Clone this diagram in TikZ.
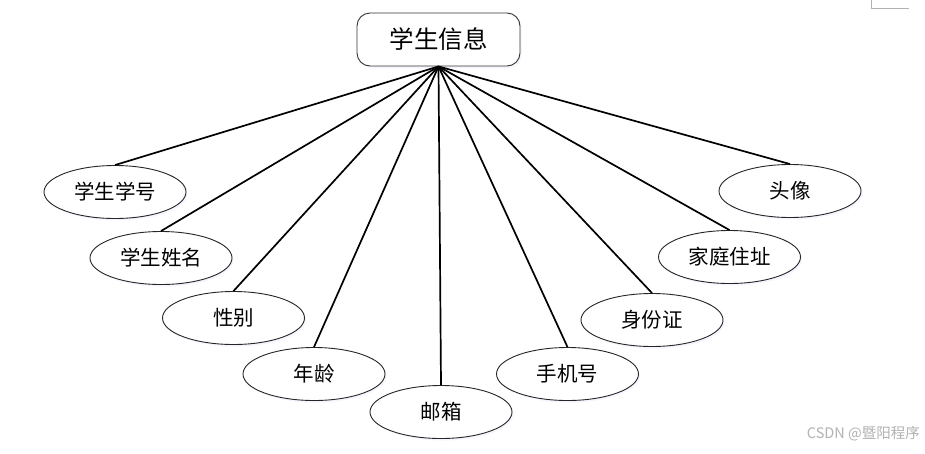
\documentclass[tikz,border=0pt]{standalone}
\usepackage{fontspec}
\newfontfamily\cjk{Noto Sans CJK SC}
\usetikzlibrary{shapes.geometric,shadows}
\tikzset{
  attr/.style={draw=black!85, line width=0.9pt, ellipse, fill=white, minimum width=142pt, minimum height=53pt, inner sep=0pt, font=\cjk\fontsize{20.5}{20.5}\selectfont,
    drop shadow={shadow xshift=1.5pt, shadow yshift=-2pt, opacity=0.25, fill=blue!15}},
  entity/.style={draw=black!80, line width=0.9pt, rounded corners=13pt, fill=white, minimum width=163pt, minimum height=53pt, inner sep=0pt, font=\cjk\fontsize{24.5}{24.5}\selectfont,
    drop shadow={shadow xshift=1.5pt, shadow yshift=-2pt, opacity=0.25, fill=blue!15}},
  conn/.style={line width=1.7pt, black}
}
\begin{document}
\begin{tikzpicture}[x=1pt,y=-1pt]
\useasboundingbox (0,0) rectangle (925,453);
\fill[white] (0,0) rectangle (925,453);
\draw[black!30, line width=0.8pt] (871,0) coordinate (c1) -- (871,8) coordinate (c2) -- (909,8) coordinate (c3);
\node[entity] (top) at (438.5,39.5) {学生信息};
\node[attr] (n1) at (115,192) {学生学号};
\node[attr] (n2) at (161,258) {学生姓名};
\node[attr] (n3) at (233.5,318) {性别};
\node[attr] (n4) at (314,374) {年龄};
\node[attr] (n5) at (441,412) {邮箱};
\node[attr] (n6) at (567.5,374) {手机号};
\node[attr] (n7) at (652,320) {身份证};
\node[attr] (n8) at (729.5,257) {家庭住址};
\node[attr] (n9) at (790,191) {头像};
\foreach \n in {n1,n2,n3,n4,n5,n6,n7,n8,n9}
  \draw[conn] (top.south) -- (\n.north);
\node[anchor=east, text=black!30, font=\cjk\fontsize{14.5}{14.5}\selectfont, inner sep=0pt] (wm) at (920,434) {CSDN @暨阳程序};
\end{tikzpicture}
\end{document}
